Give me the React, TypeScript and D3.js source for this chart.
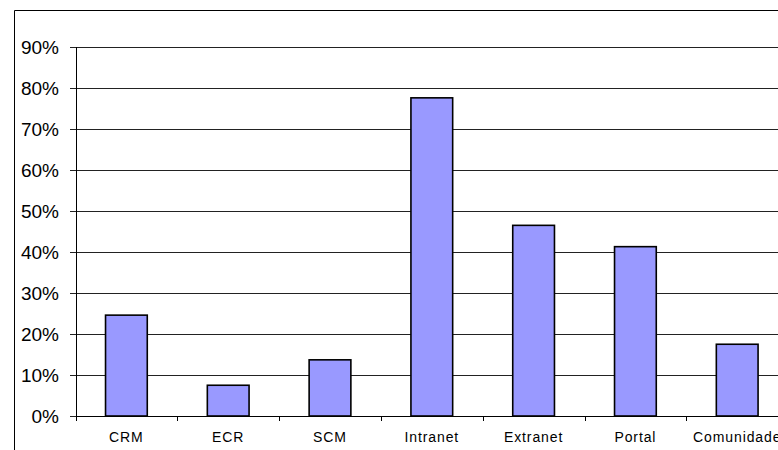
import React from "react";
import * as d3 from "d3";

const categories = ["CRM", "ECR", "SCM", "Intranet", "Extranet", "Portal", "Comunidade"];
const values = [0.246, 0.075, 0.137, 0.776, 0.465, 0.413, 0.175];
const yTicks = [0, 0.1, 0.2, 0.3, 0.4, 0.5, 0.6, 0.7, 0.8, 0.9];

const W = 778;
const H = 450;
const plot = { left: 76, top: 47, bottom: 416, right: 788 };

export default function App() {
  const x = d3
    .scaleBand<string>()
    .domain(categories)
    .range([75.5, 75.5 + 7 * 101.8])
    .paddingInner(0.59)
    .paddingOuter(0.295);

  const y = d3.scaleLinear().domain([0, 0.9]).range([plot.bottom, plot.top]);
  const fmt = d3.format(".0%");

  const step = x.step();
  const start = x.range()[0];
  const bandEdges = d3.range(categories.length + 1).map((i) => start + i * step);

  return (
    <svg
      width={W}
      height={H}
      style={{ position: "fixed", left: 0, top: 0, background: "#fff" }}
      fontFamily="'Liberation Sans', Arial, sans-serif"
    >
      <rect x={0} y={0} width={W} height={H} fill="#fff" />
      {/* outer chart frame */}
      <line x1={14.5} y1={10.5} x2={W} y2={10.5} stroke="#000" strokeWidth={1} />
      <line x1={14.5} y1={10.5} x2={14.5} y2={H} stroke="#000" strokeWidth={1} />

      {/* gridlines and y ticks */}
      {yTicks.map((t) => {
        const yy = Math.round(y(t)) + 0.5;
        return (
          <g key={t}>
            <line x1={70} x2={W} y1={yy} y2={yy} stroke="#222" strokeWidth={1} />
            <text
              x={59}
              y={yy}
              dy="0.36em"
              textAnchor="end"
              fontSize={19}
              fill="#000"
            >
              {fmt(t)}
            </text>
          </g>
        );
      })}

      {/* value axis */}
      <line x1={76.5} x2={76.5} y1={y(0.9)} y2={plot.bottom + 0.5} stroke="#000" strokeWidth={1} />

      {/* bars */}
      {categories.map((c, i) => (
        <rect
          key={c}
          x={x(c)}
          y={y(values[i])}
          width={x.bandwidth()}
          height={plot.bottom - y(values[i])}
          fill="#9999FF"
          stroke="#000"
          strokeWidth={1.6}
        />
      ))}

      {/* category axis */}
      <line x1={76} x2={W} y1={plot.bottom + 0.5} y2={plot.bottom + 0.5} stroke="#000" strokeWidth={1} />
      {bandEdges.map((e, i) => (
        <line
          key={i}
          x1={Math.round(e) + 0.5}
          x2={Math.round(e) + 0.5}
          y1={plot.bottom}
          y2={plot.bottom + 5}
          stroke="#000"
          strokeWidth={1}
        />
      ))}
      {categories.map((c) => (
        <text
          key={c}
          x={(x(c) ?? 0) + x.bandwidth() / 2}
          y={442}
          textAnchor="middle"
          fontSize={14}
          letterSpacing={0.9}
          fill="#000"
        >
          {c}
        </text>
      ))}
    </svg>
  );
}
